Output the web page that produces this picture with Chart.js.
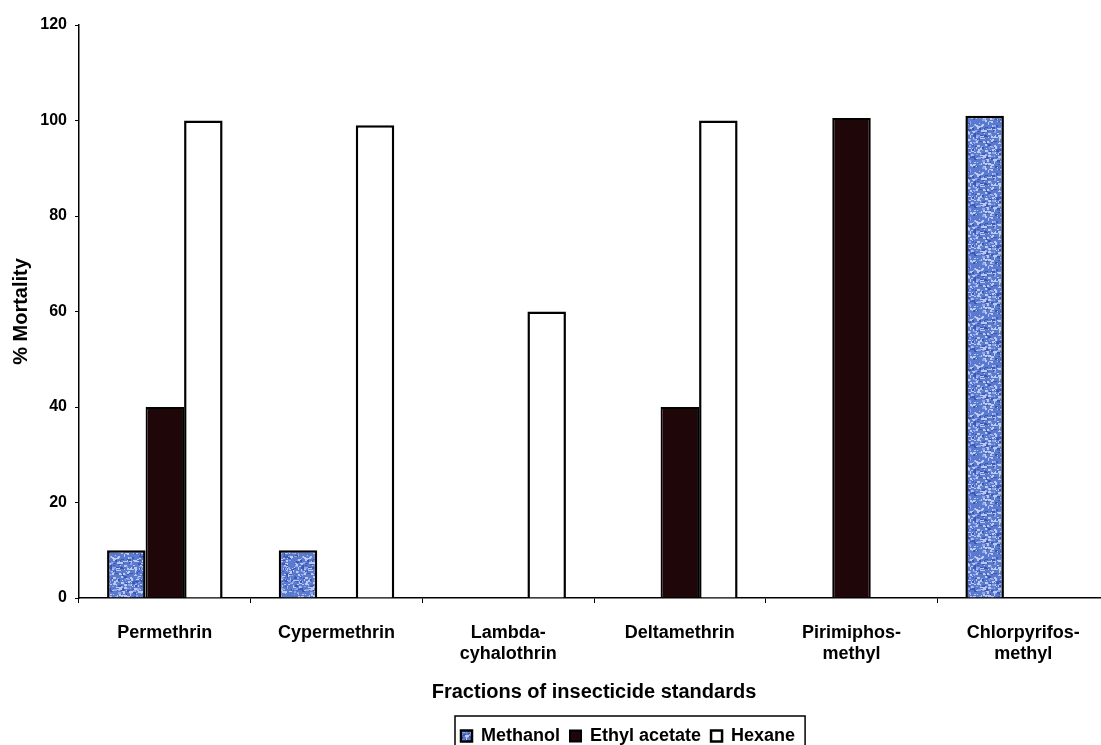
<!DOCTYPE html>
<html><head><meta charset="utf-8">
<script src="https://cdn.jsdelivr.net/npm/chart.js@4/dist/chart.umd.min.js"></script>
<style>
html,body{margin:0;padding:0;overflow:hidden;background:#fff;width:1101px;height:745px}
#wrap{position:absolute;left:0;top:0;width:1110px;height:755px}
</style></head>
<body><div id="wrap"><canvas id="c" width="1110" height="755" style="width:1110px;height:755px"></canvas></div>
<script>
const categories = [["Permethrin"],["Cypermethrin"],["Lambda-","cyhalothrin"],["Deltamethrin"],["Pirimiphos-","methyl"],["Chlorpyrifos-","methyl"]];
const seriesNames = ["Methanol","Ethyl acetate","Hexane"];
const methanol = [10, 10, 0, 0, 0, 101];
const ethylAcetate = [40, 0, 0, 40, 100.5, 0];
const hexane = [100, 99, 60, 100, 0, 0];
const yTicks = [0, 20, 40, 60, 80, 100, 120];
const xTitle = "Fractions of insecticide standards";
const yTitle = "% Mortality";

// speckled blue texture (deterministic)
function makePattern() {
  const p = document.createElement('canvas');
  p.width = 48; p.height = 48;
  const g = p.getContext('2d');
  g.fillStyle = '#5a7ad0';
  g.fillRect(0, 0, 48, 48);
  let s = 12345;
  const rnd = () => { s = (s * 1103515245 + 12345) & 0x7fffffff; return s / 0x7fffffff; };
  for (let i = 0; i < 420; i++) {
    const x = Math.floor(rnd() * 48), y = Math.floor(rnd() * 48);
    const t = rnd();
    g.fillStyle = t < 0.5 ? '#bccaf0' : (t < 0.78 ? '#3c58b4' : '#90a6e4');
    g.fillRect(x, y, 1 + Math.floor(rnd() * 3), 1 + Math.floor(rnd() * 2));
  }
  return g.createPattern(p, 'repeat');
}
const bluePattern = makePattern();

const FONT = "'Liberation Sans', Arial, sans-serif";

const legendPlugin = {
  id: 'legendTweak',
  afterLayout(chart) {
    const lg = chart.legend;
    if (!lg || !lg.lineWidths) return;
    const pad = lg.options.labels.padding;
    const start = (lg.left + pad + lg.right - lg.lineWidths[0]) / 2;
    const d = 461 - start;
    lg.left += d; lg.right += d;
  },
  afterDraw(chart) {
    const lg = chart.legend;
    if (!lg || !lg.legendHitBoxes || !lg.legendHitBoxes.length) return;
    const hb = lg.legendHitBoxes;
    let l = Infinity, r = -Infinity, t = Infinity;
    hb.forEach(h => { l = Math.min(l, h.left); r = Math.max(r, h.left + h.width); t = Math.min(t, h.top); });
    const ctx = chart.ctx;
    ctx.save();
    ctx.strokeStyle = '#000';
    ctx.lineWidth = 1.5;
    ctx.strokeRect(l - 6, t - 11, (r - l) + 16, 60);
    ctx.restore();
  }
};

new Chart(document.getElementById('c'), {
  type: 'bar',
  data: {
    labels: categories,
    datasets: [
      { label: seriesNames[0], data: methanol, backgroundColor: bluePattern, borderColor: '#000', borderWidth: 2.5 },
      { label: seriesNames[1], data: ethylAcetate, backgroundColor: '#1f0608', borderColor: '#000', borderWidth: 2 },
      { label: seriesNames[2], data: hexane, backgroundColor: '#ffffff', borderColor: '#000', borderWidth: 2.5 }
    ]
  },
  options: {
    responsive: false,
    animation: false,
    layout: { padding: { top: 25, right: 1, left: 0, bottom: 0 } },
    datasets: { bar: { categoryPercentage: 0.673, barPercentage: 1.0 } },
    plugins: {
      tooltip: { enabled: false },
      legend: {
        position: 'bottom',
        labels: {
          color: '#000',
          font: { family: FONT, size: 18, weight: 'bold' },
          boxWidth: 11, boxHeight: 11, padding: 10
        }
      }
    },
    scales: {
      x: {
        afterFit(s) { s.height = 119; },
        grid: { display: true, drawOnChartArea: false, drawTicks: true, tickLength: 5, color: '#000', lineWidth: 1 },
        border: { display: true, color: '#000', width: 1.5 },
        ticks: { color: '#000', font: { family: FONT, size: 18, weight: 'bold', lineHeight: 1.2 }, padding: 19, maxRotation: 0, autoSkip: false },
        title: { display: true, text: xTitle, color: '#000', font: { family: FONT, size: 20, weight: 'bold', lineHeight: 1.2 }, padding: { top: 2, bottom: 13 } }
      },
      y: {
        min: 0, max: 120,
        afterFit(s) { s.width = 79; },
        afterBuildTicks(s) { s.ticks = yTicks.map(v => ({ value: v })); },
        grid: { display: true, drawOnChartArea: false, drawTicks: true, tickLength: 4, color: '#000', lineWidth: 1 },
        border: { display: true, color: '#000', width: 1.5 },
        ticks: { color: '#000', font: { family: FONT, size: 16, weight: 'bold' }, padding: 8 },
        title: { display: true, text: yTitle, color: '#000', font: { family: FONT, size: 20, weight: 'bold', lineHeight: 1.2 }, padding: { top: 9, bottom: 0 } }
      }
    }
  },
  plugins: [legendPlugin]
});
</script>
</body></html>
